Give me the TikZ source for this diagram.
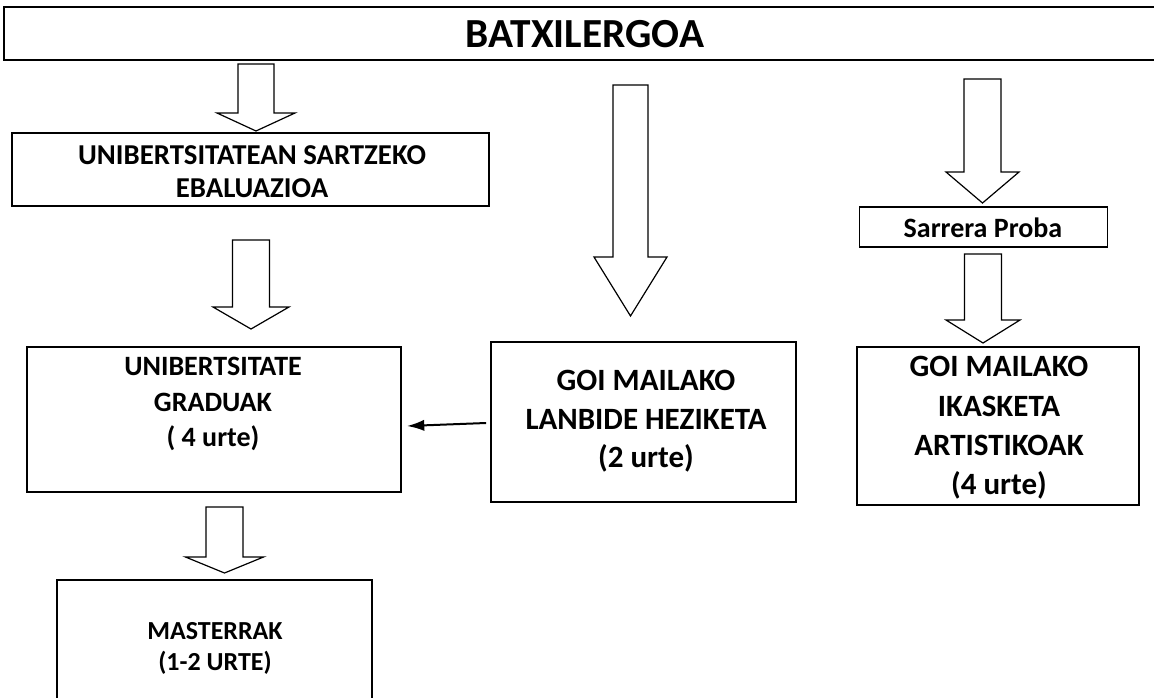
\documentclass[tikz,border=0pt]{standalone}
\usepackage{fontspec}
\setmainfont{Carlito}
\usetikzlibrary{calc,arrows.meta}
% block arrow: #1 start, #2 tip, #3 shaft half width, #4 head half width, #5 head length (px)
\newcommand\blockarrow[5]{%
  \draw[barrow] ($(#1)+(-#3,0)$) -- ($(#1)+(#3,0)$) -- ($(#2)+(#3,-#5)$)
    -- ($(#2)+(#4,-#5)$) -- (#2) -- ($(#2)+(-#4,-#5)$) -- ($(#2)+(-#3,-#5)$) -- cycle;}
\begin{document}
\begin{tikzpicture}[x=0.75pt,y=-0.75pt,
  box/.style={draw=black,line width=1.45pt,rectangle,inner sep=0pt},
  txt/.style={align=center,inner sep=0pt},
  barrow/.style={draw=black,line width=0.9pt,fill=white,line join=miter},
  conn/.style={draw=black,line width=1.5pt,-{Latex[length=13pt,width=8.5pt]}}
]
\clip (0,0) rectangle (1154,697);
\fill[white] (0,0) rectangle (1154,697);

% boxes
\node[box,line width=1.7pt,minimum width={1162*0.75pt},minimum height={53*0.75pt}] (bat) at (585,33.5) {};
\node[txt,font=\fontsize{31}{36}\selectfont\bfseries] (batt) at (585,34.5) {BATXILERGOA};

\node[box,minimum width={477*0.75pt},minimum height={73*0.75pt}] (ue) at (250.5,169.5) {};
\node[txt,font=\fontsize{21.6}{24.75}\selectfont\bfseries] (uet) at (252,171.5) {UNIBERTSITATEAN SARTZEKO\\EBALUAZIOA};

\node[box,minimum width={374*0.75pt},minimum height={145*0.75pt}] (ug) at (214,419.5) {};
\node[txt,font=\fontsize{21}{26.5}\selectfont\bfseries] (ugt) at (213,404) {UNIBERTSITATE\\GRADUAK\\( 4 urte)};

\node[box,minimum width={305*0.75pt},minimum height={160*0.75pt}] (gl) at (643.5,422) {};
\node[txt,font=\fontsize{23.25}{29}\selectfont\bfseries] (glt) at (646,421.5) {GOI MAILAKO\\LANBIDE HEZIKETA\\(2 urte)};

\node[box,minimum width={248*0.75pt},minimum height={40*0.75pt}] (sp) at (983.5,227) {};
\node[txt,font=\fontsize{21}{25}\selectfont\bfseries] (spt) at (983,227.5) {Sarrera Proba};

\node[box,minimum width={282*0.75pt},minimum height={158*0.75pt}] (ga) at (998,426) {};
\node[txt,font=\fontsize{23.25}{29.5}\selectfont\bfseries] (gat) at (999,428) {GOI MAILAKO\\IKASKETA\\ARTISTIKOAK\\(4 urte)};

\node[box,line width=0.8pt,minimum width={315*0.75pt},minimum height={140*0.75pt}] (ms) at (214.5,650) {};
\node[txt,font=\fontsize{19.5}{23.25}\selectfont\bfseries] (mst) at (215,648) {MASTERRAK\\(1-2 URTE)};

% block arrow end points
\coordinate (a1s) at (256,64);  \coordinate (a1e) at (256,131);
\coordinate (a4s) at (251,240); \coordinate (a4e) at (251,329);
\coordinate (a2s) at (630.5,85); \coordinate (a2e) at (630.5,316);
\coordinate (a3s) at (982.5,79); \coordinate (a3e) at (982.5,203);
\coordinate (a5s) at (983,254); \coordinate (a5e) at (983,343);
\coordinate (a6s) at (224.5,507); \coordinate (a6e) at (224.5,573);

\blockarrow{a1s}{a1e}{18}{39}{18}
\blockarrow{a4s}{a4e}{18.5}{38}{22}
\blockarrow{a2s}{a2e}{17.5}{36.5}{59}
\blockarrow{a3s}{a3e}{18.5}{36.5}{31}
\blockarrow{a5s}{a5e}{18.5}{37}{23}
\blockarrow{a6s}{a6e}{18.5}{39}{16}

% line arrow from GOI MAILAKO LANBIDE to UNIBERTSITATE GRADUAK
\coordinate (hs) at ($(gl.west)+(-4,1)$);
\coordinate (he) at ($(ug.east)+(5,6.5)$);
\draw[conn] (hs) -- (he);
\end{tikzpicture}
\end{document}
